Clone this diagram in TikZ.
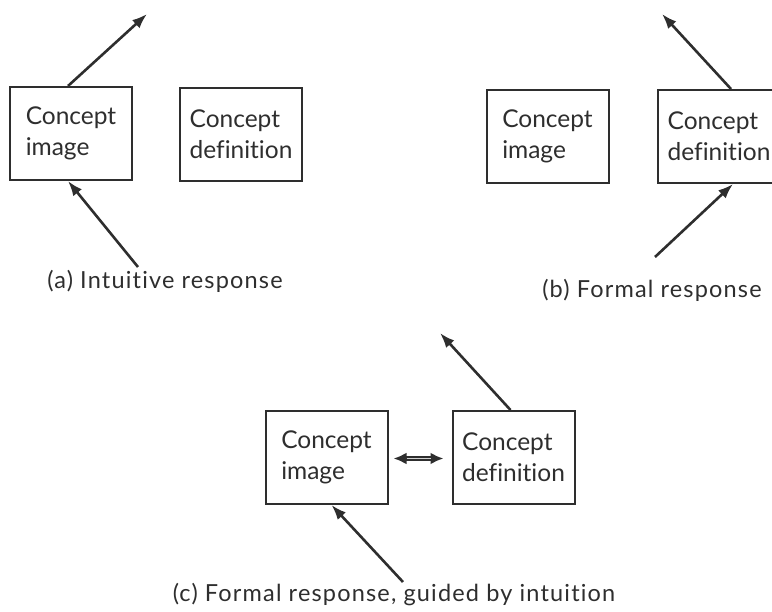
\documentclass[tikz,border=0pt]{standalone}
\usepackage{fontspec}
\setmainfont{Lato}[Ligatures={NoCommon,NoRare}]
\usetikzlibrary{arrows.meta,calc}
\definecolor{ink}{HTML}{2E2E2E}
\tikzset{
  cbox/.style={draw=ink, line width=2pt, minimum width=122pt, minimum height=93pt,
    align=left, font=\fontsize{24.5}{31}\selectfont, text=ink, inner sep=0pt},
  flow/.style={draw=ink, line width=2.6pt, -{Latex[length=15pt,width=11pt]}},
  captext/.style={font=\fontsize{23.5}{26}\selectfont\addfontfeature{LetterSpace=5}, text=ink, inner sep=0pt}
}
\begin{document}
\begin{tikzpicture}[x=1pt,y=-1pt]
\useasboundingbox (0,0) rectangle (772,612);
\clip (0,0) rectangle (772,612);
% (a)
\node[cbox] (a1) at (71,133.5) {Concept\\image};
\node[cbox] (a2) at (241,134.5) {Concept\\definition};
\coordinate (a1out) at (147,14);
\coordinate (a1in) at (138,267);
\draw[flow] ($(a1.north)+(-3,0)$) -- (a1out);
\draw[flow] (a1in) -- ($(a1.south)+(-3,0)$);
\node[captext] (acap) at (165,281) {(a) Intuitive response};
% (b)
\node[cbox] (b1) at (547.5,136.5) {Concept\\image};
\node[cbox] (b2) at (719,136.5) {Concept\\definition};
\coordinate (b2out) at (662,14);
\coordinate (b2in) at (655,257);
\draw[flow] ($(b2.north)+(12,0)$) -- (b2out);
\draw[flow] (b2in) -- ($(b2.south)+(14,0)$);
\node[captext] (bcap) at (652,290) {(b) Formal response};
% (c)
\node[cbox] (c1) at (326.5,457.5) {Concept\\image};
\node[cbox] (c2) at (513.5,457.5) {Concept\\definition};
\coordinate (c2out) at (440,333);
\coordinate (c1in) at (403,582);
\draw[flow] ($(c2.north)+(-3,0)$) -- (c2out);
\draw[flow] (c1in) -- ($(c1.south)+(5,0)$);
\draw[draw=ink, line width=4.5pt,
  {Latex[length=13pt,width=12pt]}-{Latex[length=13pt,width=12pt]}]
  ($(c1.east)+(5,1)$) -- ($(c2.west)+(-8,1)$);
\draw[draw=gray!35, line width=1.5pt, shorten <=13pt, shorten >=13pt]
  ($(c1.east)+(5,1)$) -- ($(c2.west)+(-8,1)$);
\node[captext] (ccap) at (394,595) {(c) Formal response, guided by intuition};
\end{tikzpicture}
\end{document}
